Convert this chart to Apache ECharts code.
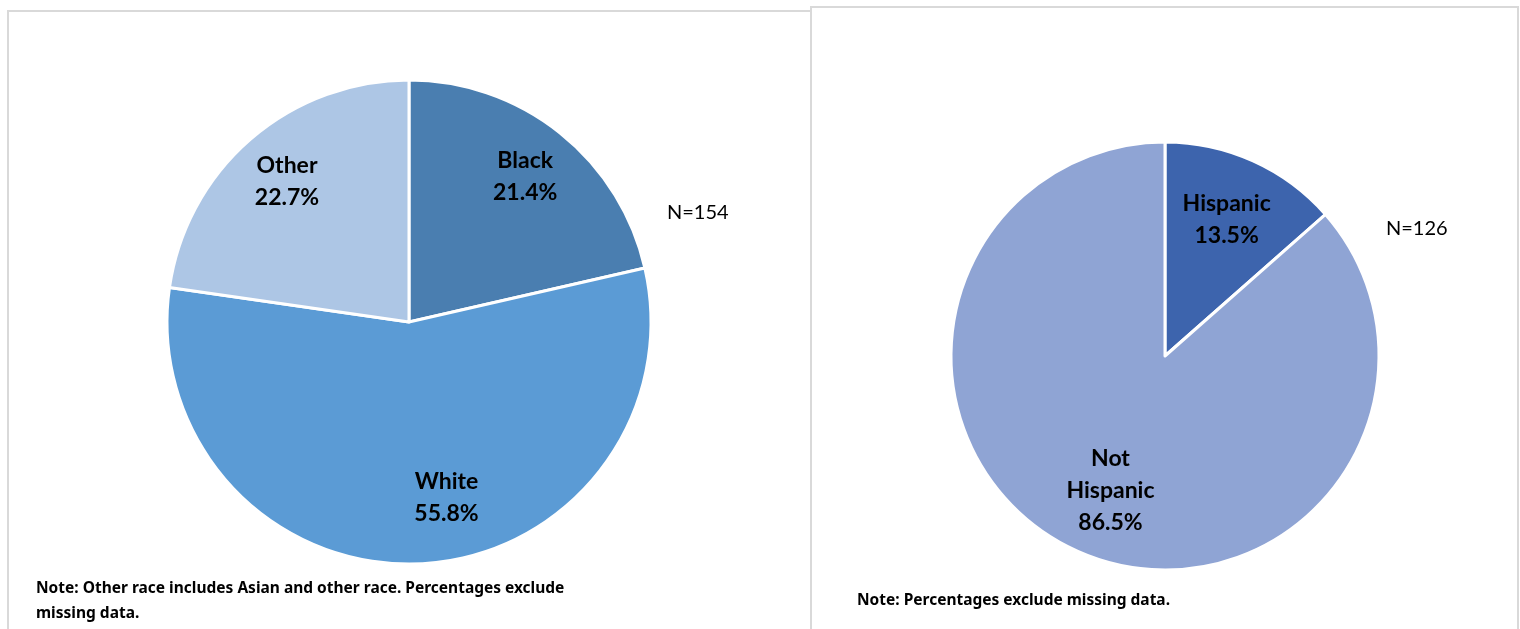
<!DOCTYPE html>
<html><head><meta charset="utf-8">
<script src="https://cdn.jsdelivr.net/npm/echarts@6/dist/echarts.min.js"></script>
<style>html,body{margin:0;padding:0;background:#fff}#c{width:1520px;height:629px}</style>
</head><body><div id="c"></div>
<script>
const raceCats = ['Black', 'White', 'Other'];
const raceVals = [21.4, 55.8, 22.7];
const ethCats = ['Hispanic', 'Not\nHispanic'];
const ethVals = [13.5, 86.5];
const raceN = 'N=154';
const ethN = 'N=126';
const raceNote = 'Note: Other race includes Asian and other race. Percentages exclude\nmissing data.';
const ethNote = 'Note: Percentages exclude missing data.';

const raceColors = ['#4a7eb0', '#5b9bd5', '#adc6e5'];
const ethColors = ['#3d64ad', '#8fa4d4'];

const chart = echarts.init(document.getElementById('c'));

function makeLayout(vals, cx, cy, r, ks, shifts) {
  const total = vals.reduce((a, b) => a + b, 0);
  return function (p) {
    let cum = 0;
    for (let i = 0; i < p.dataIndex; i++) cum += vals[i];
    const mid = (cum + vals[p.dataIndex] / 2) / total * Math.PI * 2 + (shifts[p.dataIndex] || 0);
    const k = ks[p.dataIndex];
    return {
      x: cx + k * r * Math.sin(mid),
      y: cy - k * r * Math.cos(mid),
      align: 'center',
      verticalAlign: 'middle'
    };
  };
}

const labelStyle = {
  show: true,
  position: 'inside',
  formatter: p => p.name + '\n' + p.value.toFixed(1) + '%',
  fontFamily: 'Lato',
  fontWeight: 'bold',
  fontSize: 23,
  lineHeight: 32,
  color: '#000',
  align: 'center'
};

chart.setOption({
  animation: false,
  graphic: [
    { type: 'rect', shape: { x: 8, y: 11, width: 803, height: 640 }, style: { fill: 'none', stroke: '#d9d9d9', lineWidth: 2 }, z: 0 },
    { type: 'rect', shape: { x: 811, y: 7, width: 707, height: 640 }, style: { fill: 'none', stroke: '#d9d9d9', lineWidth: 2 }, z: 0 },
    { type: 'text', left: 667, top: 203, style: { text: raceN, font: '20px Lato', fill: '#000' } },
    { type: 'text', left: 1386, top: 219, style: { text: ethN, font: '20px Lato', fill: '#000' } },
    { type: 'text', left: 36, top: 576, style: { text: raceNote, font: 'bold 15.5px "Noto Sans"', lineHeight: 25, fill: '#000' } },
    { type: 'text', left: 857, top: 593, style: { text: ethNote, font: 'bold 15.5px "Noto Sans"', fill: '#000' } }
  ],
  series: [
    {
      type: 'pie',
      center: [409, 322],
      radius: 242,
      startAngle: 90,
      clockwise: true,
      silent: true,
      itemStyle: { borderColor: '#fff', borderWidth: 3 },
      label: labelStyle,
      labelLine: { show: false },
      labelLayout: makeLayout(raceVals, 409, 322, 242, [0.77, 0.74, 0.77], [0, -0.17, 0]),
      data: raceCats.map((c, i) => ({ name: c, value: raceVals[i], itemStyle: { color: raceColors[i] } }))
    },
    {
      type: 'pie',
      center: [1165, 356],
      radius: 214,
      startAngle: 90,
      clockwise: true,
      silent: true,
      itemStyle: { borderColor: '#fff', borderWidth: 3 },
      label: labelStyle,
      labelLine: { show: false },
      labelLayout: makeLayout(ethVals, 1165, 356, 214, [0.70, 0.68], [0, -0.04]),
      data: ethCats.map((c, i) => ({ name: c, value: ethVals[i], itemStyle: { color: ethColors[i] } }))
    }
  ]
});
</script></body></html>
